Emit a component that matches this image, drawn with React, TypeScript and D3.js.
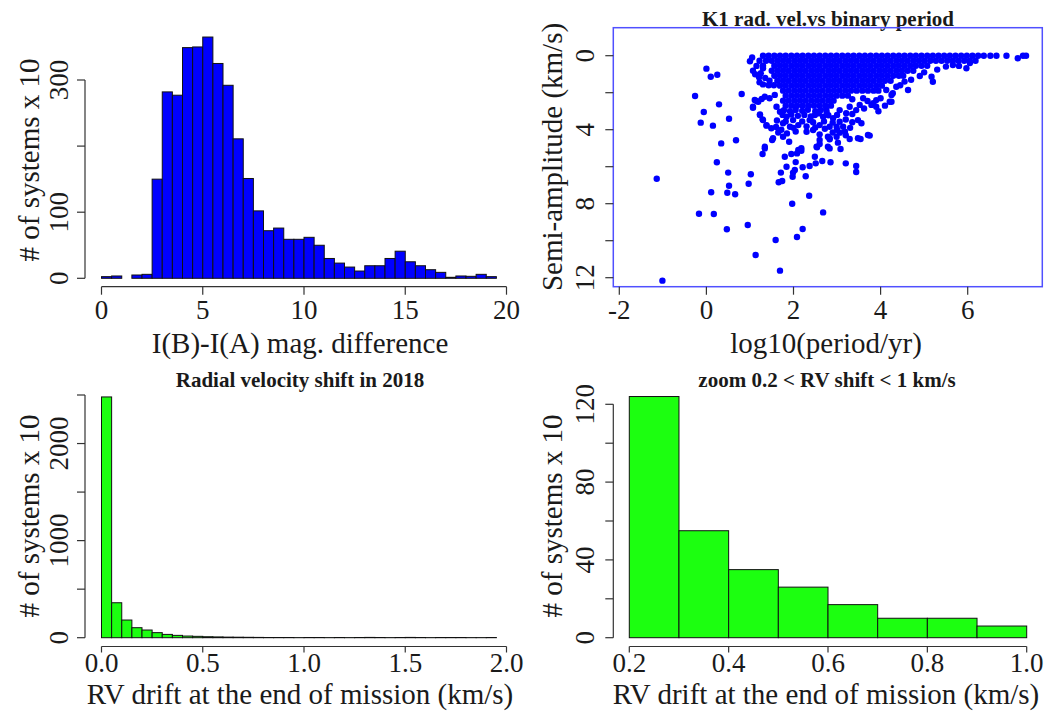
import React from "react";
import * as d3 from "d3";

// ---------- DATA ----------
// Top-left: I(B)-I(A) histogram, bins of 0.5 starting at 0 (counts in systems x 10)
const magBinStart = 0;
const magBinWidth = 0.5;
const magCounts = [2.5, 3.5, 0, 5, 6, 150, 282, 277, 349, 350, 365, 325, 292, 211, 151, 102, 72, 76, 59, 59, 62, 50, 30, 23, 17, 11, 19, 19, 30, 41, 25, 19, 13, 9, 1.5, 3.5, 3, 6, 2.5];
const magXTicks = [0, 5, 10, 15, 20];
const magYTicks = [0, 100, 200, 300];
const magYLabels = [0, 100, 300];

// Bottom-left: RV drift histogram, bins of 0.05
const rvBinStart = 0;
const rvBinWidth = 0.05;
const rvCounts = [2480, 360, 182, 103, 79, 52, 34, 24, 17, 14, 10, 8, 6, 5, 4, 3, 2, 2, 2, 1, 2, 2, 1, 2, 1, 2, 3, 2, 1, 2, 3, 2, 1, 2, 2, 2, 1, 1, 2];
const rvXTicks = [0, 0.5, 1, 1.5, 2];
const rvYTicks = [0, 500, 1000, 1500, 2000, 2500];
const rvYLabels = [0, 1000, 2000];

// Bottom-right: zoom histogram, bins of 0.1 from 0.2
const zBinStart = 0.2;
const zBinWidth = 0.1;
const zCounts = [124, 55, 35, 26, 17, 10, 10, 6];
const zXTicks = [0.2, 0.4, 0.6, 0.8, 1.0];
const zYTicks = [0, 20, 40, 60, 80, 100, 120];
const zYLabels = [0, 40, 80, 120];

// Top-right: K1 vs log10(period) scatter
const scXTicks = [-2, 0, 2, 4, 6];
const scYTicks = [0, 2, 4, 6, 8, 10, 12];
const scYLabels = [0, 4, 8, 12];
const scatterSparse: [number, number][] = [
  [-1.14, 6.65], [-1.01, 12.16], [-0.26, 2.18], [0.0, 0.7], [0.1, 1.14], [0.25, 1.03], [-0.06, 3.04], [-0.13, 3.62], [0.15, 3.78],
  [0.29, 2.63], [0.52, 3.41], [0.34, 4.74], [0.68, 4.57], [0.24, 5.76], [0.5, 6.32], [1.02, 6.41], [0.97, 6.92], [0.52, 7.03],
  [0.11, 7.38], [0.48, 7.41], [0.66, 7.49], [-0.17, 8.54], [0.17, 8.56], [0.47, 9.38], [0.95, 9.15], [1.13, 10.77], [0.81, 2.07],
  [1.0, 0.3], [1.07, 0.81], [1.21, 1.17], [1.22, 1.44], [1.3, 0.68], [1.43, 1.6], [1.15, 2.45], [1.07, 2.81], [1.23, 3.17],
  [1.29, 3.44], [1.38, 3.78], [1.34, 5.01], [1.29, 5.31], [1.34, 2.22], [1.27, 2.34],
  [1.69, 11.62], [1.59, 9.96], [2.08, 9.8], [2.21, 9.37], [1.97, 8.0], [2.36, 7.57], [2.68, 8.47], [1.66, 6.84], [1.74, 6.77],
  [1.98, 6.54], [1.99, 6.32], [2.03, 6.18], [1.71, 6.32], [2.28, 6.52], [2.21, 6.03], [2.37, 5.96], [2.51, 5.82], [2.66, 5.69],
  [2.85, 5.76], [3.2, 5.82], [3.44, 5.96], [3.44, 6.29], [1.84, 6.0], [2.05, 5.75], [1.8, 5.46], [1.95, 5.31], [2.08, 5.28],
  [2.18, 5.14], [2.11, 5.1], [2.49, 5.46], [2.54, 4.95], [2.6, 4.77], [2.83, 5.01], [3.08, 5.04], [1.51, 4.56], [1.76, 4.38],
  [1.9, 4.65], [2.83, 4.52], [2.99, 4.38], [3.02, 4.7], [3.29, 4.5], [3.54, 4.5], [3.75, 4.32], [2.79, 4.38], [3.06, 4.16], [3.18, 4.11],
  [4.13, 1.85], [4.25, 2.12], [4.21, 2.49], [3.83, 2.57], [3.9, 2.76], [3.52, 2.66], [3.44, 2.94], [3.48, 3.48], [3.56, 3.65],
  [3.21, 3.11], [3.29, 2.76], [3.06, 2.94], [3.71, 4.29], [3.48, 4.46], [2.99, 3.84], [2.83, 4.46], [2.79, 4.92], [2.6, 4.56],
  [2.53, 4.92], [2.3, 4.11], [2.18, 5.0], [1.53, 4.46], [1.34, 4.92], [1.38, 3.75], [1.49, 3.92], [1.23, 3.21], [1.3, 3.48],
  [1.07, 2.76], [1.19, 2.49], [1.11, 2.39], [1.45, 2.3], [1.57, 2.12], [1.61, 2.76], [1.69, 3.03], [1.84, 3.3], [1.99, 3.48],
  [1.76, 3.65], [1.92, 3.84], [2.11, 3.75], [2.37, 3.48], [2.49, 3.21], [2.68, 3.3], [2.76, 3.03], [3.06, 3.57], [3.14, 3.84],
  [2.83, 3.84], [2.91, 3.38], [2.6, 3.75], [2.45, 4.02], [3.9, 2.4], [3.79, 2.66],
  [6.89, 0], [7.15, 0.14], [7.27, 0], [7.34, 0], [5.17, 1.14], [5.2, 1.41], [5.97, 0.68], [4.63, 1.85], [4.36, 1.68], [4.28, 2.03],
  [4.25, 2.49], [5.5, 0.59], [5.66, 0.5],
  // lower fringe of the dense cloud
  [1.78, 2.95], [1.92, 3.0], [2.05, 2.93], [2.2, 2.98], [2.33, 2.92], [2.5, 3.0], [2.62, 2.95], [2.75, 2.9],
  [1.75, 3.2], [1.95, 3.18], [2.1, 3.25], [2.25, 3.2], [2.4, 3.28], [2.58, 3.12], [2.8, 3.22], [3.0, 3.2], [3.35, 3.15],
  [1.62, 3.5], [1.82, 3.55], [2.2, 3.55], [2.45, 3.6], [2.7, 3.55], [2.9, 3.62], [3.2, 3.45], [3.35, 3.6],
  [1.6, 3.85], [1.72, 4.0], [2.0, 3.9], [2.3, 3.82], [2.5, 3.88], [2.72, 3.95], [3.0, 4.0], [3.3, 3.9],
  [1.65, 4.15], [1.85, 4.2], [2.05, 4.1], [2.6, 4.25], [2.9, 4.15], [3.2, 4.3],
  [3.35, 2.35], [3.6, 2.3], [3.7, 2.45], [4.0, 2.3], [3.62, 2.85], [3.95, 3.0], [4.1, 2.7],
  [4.45, 1.6], [4.7, 1.3], [4.9, 1.1], [5.0, 0.9], [4.55, 1.4], [5.3, 0.75], [5.8, 0.55], [6.05, 0.4],
  [1.15, 0.55], [1.12, 1.0], [1.25, 0.95], [1.35, 1.2], [1.45, 1.35], [1.3, 1.55], [1.55, 1.6], [1.05, 0.1],
];
// Dense cloud, read row by row (y value, x positions)
const denseRows: [number, number[]][] = [
  [0.0, [1.30, 1.43, 1.56, 1.69, 1.82, 1.95, 2.08, 2.21, 2.34, 2.47, 2.60, 2.73, 2.86, 2.99, 3.12, 3.25, 3.38, 3.51, 3.64, 3.77, 3.90, 4.03, 4.16, 4.29, 4.42, 4.55, 4.68, 4.81, 4.94, 5.07, 5.20, 5.33, 5.46, 5.59, 5.72, 5.85, 5.98, 6.11, 6.24, 6.37, 6.52, 6.66]],
  [0.27, [1.22, 1.37, 1.50, 1.63, 1.76, 1.89, 2.02, 2.15, 2.28, 2.41, 2.54, 2.67, 2.80, 2.93, 3.06, 3.19, 3.32, 3.45, 3.58, 3.71, 3.84, 3.97, 4.10, 4.23, 4.36, 4.49, 4.62, 4.75, 4.88, 5.01, 5.14, 5.27, 5.40, 5.53, 5.66, 5.79, 5.92, 6.05, 6.18]],
  [0.54, [1.30, 1.56, 1.69, 1.82, 1.95, 2.08, 2.21, 2.34, 2.47, 2.60, 2.73, 2.86, 2.99, 3.12, 3.25, 3.38, 3.51, 3.64, 3.77, 3.90, 4.03, 4.16, 4.29, 4.42, 4.55, 4.68, 4.81, 4.94, 5.07]],
  [0.81, [1.50, 1.63, 1.76, 1.89, 2.02, 2.15, 2.28, 2.41, 2.54, 2.67, 2.80, 2.93, 3.06, 3.19, 3.32, 3.45, 3.58, 3.71, 3.84, 3.97, 4.10, 4.23, 4.36, 4.49, 4.62, 4.75]],
  [1.08, [1.56, 1.69, 1.82, 1.95, 2.08, 2.21, 2.34, 2.47, 2.60, 2.73, 2.86, 2.99, 3.12, 3.25, 3.38, 3.51, 3.64, 3.77, 3.90, 4.03, 4.16, 4.29, 4.42, 4.52]],
  [1.35, [1.63, 1.76, 1.89, 2.02, 2.15, 2.28, 2.41, 2.54, 2.67, 2.80, 2.93, 3.06, 3.19, 3.32, 3.45, 3.58, 3.71, 3.84, 3.97, 4.10, 4.23]],
  [1.62, [1.69, 1.82, 1.95, 2.08, 2.21, 2.34, 2.47, 2.60, 2.73, 2.86, 2.99, 3.12, 3.25, 3.38, 3.51, 3.64, 3.77, 3.90, 4.03]],
  [1.89, [1.76, 1.89, 2.02, 2.15, 2.28, 2.41, 2.54, 2.67, 2.80, 2.93, 3.06, 3.19, 3.32, 3.45, 3.58, 3.71, 3.84, 3.95]],
  [2.16, [1.82, 1.95, 2.08, 2.21, 2.34, 2.47, 2.60, 2.73, 2.86, 2.99, 3.12, 3.25]],
  [2.43, [1.76, 1.89, 2.02, 2.15, 2.28, 2.41, 2.54, 2.67, 2.80, 2.92]],
  [2.70, [1.82, 1.95, 2.08, 2.21, 2.34, 2.47, 2.60, 2.73, 2.86]],
];

// ---------- STYLE ----------
const FONT = "'Liberation Serif', 'Times New Roman', serif";
const AXIS = "#333";
const TXT = "#1a1a1a";
const BLUE = "#0000ff";
const GREEN = "#1cff10";

type Hist = {
  x: d3.ScaleLinear<number, number>;
  y: d3.ScaleLinear<number, number>;
  counts: number[];
  start: number;
  width: number;
  fill: string;
};

function Bars({ x, y, counts, start, width, fill }: Hist) {
  return (
    <g>
      {counts.map((c, i) => {
        const x0 = x(start + i * width);
        const x1 = x(start + (i + 1) * width);
        const y0 = y(0);
        const y1 = y(c);
        return (
          <rect key={i} x={x0} y={Math.min(y0, y1)} width={x1 - x0} height={Math.abs(y0 - y1)}
            fill={fill} stroke="#111" strokeWidth={1} />
        );
      })}
    </g>
  );
}

function XAxis({ x, ticks, y0, fmt, labelY, tickLen = 8 }: { x: d3.ScaleLinear<number, number>; ticks: number[]; y0: number; fmt: (v: number) => string; labelY: number; tickLen?: number }) {
  return (
    <g>
      <line x1={x(ticks[0])} x2={x(ticks[ticks.length - 1])} y1={y0} y2={y0} stroke={AXIS} strokeWidth={1.2} />
      {ticks.map((t) => (
        <g key={t}>
          <line x1={x(t)} x2={x(t)} y1={y0} y2={y0 + tickLen} stroke={AXIS} strokeWidth={1.2} />
          <text x={x(t)} y={labelY} textAnchor="middle" fontFamily={FONT} fontSize={27} fill={TXT}>{fmt(t)}</text>
        </g>
      ))}
    </g>
  );
}

function YAxis({ y, ticks, labels, x0, labelX, drawLine = true }: { y: d3.ScaleLinear<number, number>; ticks: number[]; labels: number[]; x0: number; labelX: number; drawLine?: boolean }) {
  return (
    <g>
      {drawLine && <line x1={x0} x2={x0} y1={y(ticks[0])} y2={y(ticks[ticks.length - 1])} stroke={AXIS} strokeWidth={1.2} />}
      {ticks.map((t) => (
        <line key={t} x1={x0 - 8} x2={x0} y1={y(t)} y2={y(t)} stroke={AXIS} strokeWidth={1.2} />
      ))}
      {labels.map((t) => (
        <text key={t} transform={`translate(${labelX},${y(t)}) rotate(-90)`} textAnchor="middle" fontFamily={FONT} fontSize={27} fill={TXT}>{String(t)}</text>
      ))}
    </g>
  );
}

function VLabel({ x, y, text }: { x: number; y: number; text: string }) {
  return (
    <text transform={`translate(${x},${y}) rotate(-90)`} textAnchor="middle" fontFamily={FONT} fontSize={29} fill={TXT}>{text}</text>
  );
}

function HLabel({ x, y, text, bold = false, size = 29 }: { x: number; y: number; text: string; bold?: boolean; size?: number }) {
  return (
    <text x={x} y={y} textAnchor="middle" fontFamily={FONT} fontSize={size} fontWeight={bold ? "bold" : "normal"} fill={TXT}>{text}</text>
  );
}

export default function App() {
  // Top-left
  const tlX = d3.scaleLinear().domain([0, 20]).range([101.5, 506.5]);
  const tlY = d3.scaleLinear().domain([0, 300]).range([278.3, 80]);
  // Top-right
  const trX = d3.scaleLinear().domain([-2, 6]).range([619.3, 967.7]);
  const trY = d3.scaleLinear().domain([0, 12]).range([55.7, 277.7]);
  // Bottom-left
  const blX = d3.scaleLinear().domain([0, 2]).range([101.5, 506.5]);
  const blY = d3.scaleLinear().domain([0, 2500]).range([637.7, 395]);
  // Bottom-right
  const brX = d3.scaleLinear().domain([0.2, 1.0]).range([629.3, 1026.7]);
  const brY = d3.scaleLinear().domain([0, 120]).range([637.7, 404.3]);

  const densePts: [number, number][] = [];
  denseRows.forEach(([yy, xs]) => xs.forEach((xx) => densePts.push([xx, yy])));
  const allPts = densePts.concat(scatterSparse);

  const f1 = d3.format(".1f");

  return (
    <svg width={1061} height={718} style={{ position: "absolute", left: 0, top: 0, background: "#fff" }}>
      <rect x={0} y={0} width={1061} height={718} fill="#fff" />

      {/* Top-left histogram */}
      <Bars x={tlX} y={tlY} counts={magCounts} start={magBinStart} width={magBinWidth} fill={BLUE} />
      <XAxis x={tlX} ticks={magXTicks} y0={286.7} fmt={(v) => String(v)} labelY={319} />
      <YAxis y={tlY} ticks={magYTicks} labels={magYLabels} x0={85} labelX={68} />
      <HLabel x={300} y={353} text="I(B)-I(A) mag. difference" />
      <VLabel x={39} y={160} text="# of systems x 10" />

      {/* Top-right scatter */}
      <HLabel x={828} y={26} text="K1 rad. vel.vs binary period" bold size={21} />
      <g>
        {allPts.map(([px, py], i) => (
          <circle key={i} cx={trX(px)} cy={trY(py)} r={3.2} fill={BLUE} />
        ))}
      </g>
      <rect x={613.3} y={27.7} width={429} height={259} fill="none" stroke="#5050ff" strokeWidth={1.5} />
      <g>
        {scXTicks.map((t) => (
          <g key={t}>
            <line x1={trX(t)} x2={trX(t)} y1={286.7} y2={294.7} stroke={AXIS} strokeWidth={1.2} />
            <text x={trX(t)} y={319} textAnchor="middle" fontFamily={FONT} fontSize={27} fill={TXT}>{String(t)}</text>
          </g>
        ))}
      </g>
      <YAxis y={trY} ticks={scYTicks} labels={scYLabels} x0={613.3} labelX={594} drawLine={false} />
      <HLabel x={826} y={353} text="log10(period/yr)" />
      <VLabel x={562} y={157} text="Semi-amplitude (km/s)" />

      {/* Bottom-left histogram */}
      <HLabel x={300} y={387} text="Radial velocity shift in 2018" bold size={21} />
      <Bars x={blX} y={blY} counts={rvCounts} start={rvBinStart} width={rvBinWidth} fill={GREEN} />
      <XAxis x={blX} ticks={rvXTicks} y0={646.5} fmt={f1} labelY={672} tickLen={6} />
      <YAxis y={blY} ticks={rvYTicks} labels={rvYLabels} x0={85} labelX={68} />
      <HLabel x={300} y={704} text="RV drift at the end of mission (km/s)" />
      <VLabel x={39} y={516} text="# of systems x 10" />

      {/* Bottom-right histogram */}
      <HLabel x={827} y={387} text="zoom 0.2 < RV shift < 1 km/s" bold size={21} />
      <Bars x={brX} y={brY} counts={zCounts} start={zBinStart} width={zBinWidth} fill={GREEN} />
      <XAxis x={brX} ticks={zXTicks} y0={646.5} fmt={f1} labelY={672} tickLen={6} />
      <YAxis y={brY} ticks={zYTicks} labels={zYLabels} x0={613.3} labelX={594} />
      <HLabel x={826} y={704} text="RV drift at the end of mission (km/s)" />
      <VLabel x={562} y={516} text="# of systems x 10" />
    </svg>
  );
}
